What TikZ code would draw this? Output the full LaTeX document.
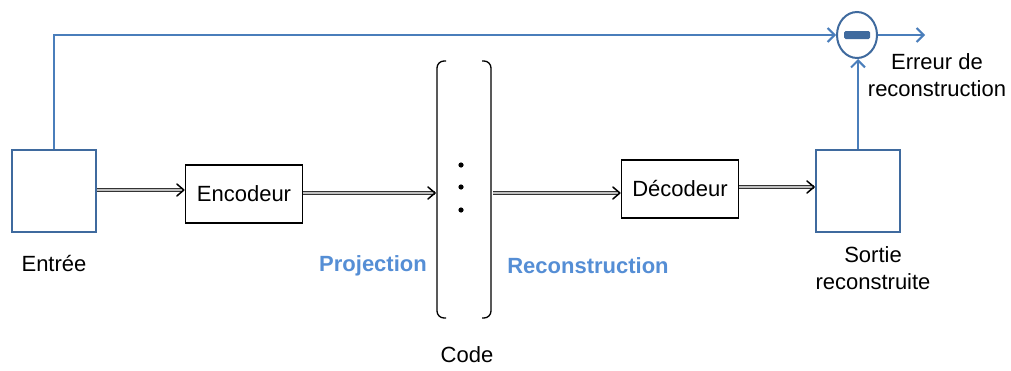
\documentclass[tikz,border=0pt]{standalone}
\usepackage{fontspec}
\setmainfont{Liberation Sans}
\usepackage{tikz}
\usetikzlibrary{arrows.meta,shapes.geometric}

\definecolor{boxblue}{HTML}{3F6A9E}
\definecolor{lineblue}{HTML}{4A7EBB}
\definecolor{textblue}{HTML}{558ED5}

\tikzset{
  blk/.style={draw, line width=1.3pt, minimum width=117pt, minimum height=58pt, font=\fontsize{22}{26}\selectfont},
  sq/.style={draw=boxblue, line width=2pt, minimum width=84pt, minimum height=82pt},
  lbl/.style={font=\fontsize{22}{26}\selectfont, align=center},
  blbl/.style={font=\fontsize{22}{26}\selectfont\bfseries, text=textblue},
  dbl/.style={draw=black!80, double=black!25, double distance=1.2pt, line width=1pt, shorten >=1.5pt},
  tip/.style={draw=black, line width=1.5pt, line cap=round, line join=round},
  blu/.style={draw=lineblue, line width=2pt, -{Straight Barb[length=7pt, width=14pt]}}
}

\begin{document}
\begin{tikzpicture}[x=1pt, y=-1pt]
  \useasboundingbox (0,0) rectangle (1011,370);

  % boxes
  \node[sq] (in) at (54,191) {};
  \node[lbl] (inlbl) at (54,264) {Entr\'ee};
  \node[blk] (enc) at (244,194) {Encodeur};
  \node[blk] (dec) at (680,189) {D\'ecodeur};
  \node[sq] (out) at (858,191) {};
  \node[lbl] (outlbl) at (873,268) {Sortie\\[1pt]reconstruite};

  % code vector
  \coordinate (codel) at (436,193);
  \coordinate (coder) at (493,193);
  \draw[line width=1.3pt, rounded corners=7pt] (446,61) -- (437,61) -- (437,318) -- (446,318);
  \draw[line width=1.3pt, rounded corners=7pt] (482,61) -- (491,61) -- (491,318) -- (482,318);
  \foreach \y in {165,187,210}
    \fill (461,\y) circle (2.6pt);
  \node[lbl] (code) at (467,355) {Code};

  \node[blbl] (proj) at (373,266) {Projection};
  \node[blbl] (reco) at (588,266) {Reconstruction};

  % error
  \node[ellipse, draw=boxblue, line width=2pt, minimum width=40pt, minimum height=46pt, inner sep=0pt] (err) at (857,35) {};
  \fill[boxblue, rounded corners=1.5pt] (844,31) rectangle (870,39);
  \coordinate (errend) at (925,35);
  \node[lbl, anchor=north] (errlbl) at (937,50) {Erreur de\\[1pt]reconstruction};

  % double connectors
  \coordinate (a1) at (in.east |- 0,190);
  \coordinate (a2) at (enc.west |- 0,190);
  \coordinate (a3) at (dec.east |- 0,187);
  \coordinate (a4) at (out.west |- 0,187);
  \coordinate (a5) at (enc.east |- codel);
  \coordinate (a6) at (dec.west |- coder);
  \draw[dbl] (a1) -- (a2);
  \draw[dbl] (a5) -- (codel);
  \draw[dbl] (coder) -- (a6);
  \draw[dbl] (a3) -- (a4);
  \foreach \p in {a2,codel,a6,a4}
    \draw[tip] ([shift={(-8pt,-6pt)}]\p) -- ([xshift=-1pt]\p) -- ([shift={(-8pt,6pt)}]\p);

  % blue connectors
  \draw[blu] (in.north) |- (err.west);
  \draw[blu] (out.north) -- (out.north |- err.south);
  \draw[blu] (err.east) -- (errend);
\end{tikzpicture}
\end{document}
